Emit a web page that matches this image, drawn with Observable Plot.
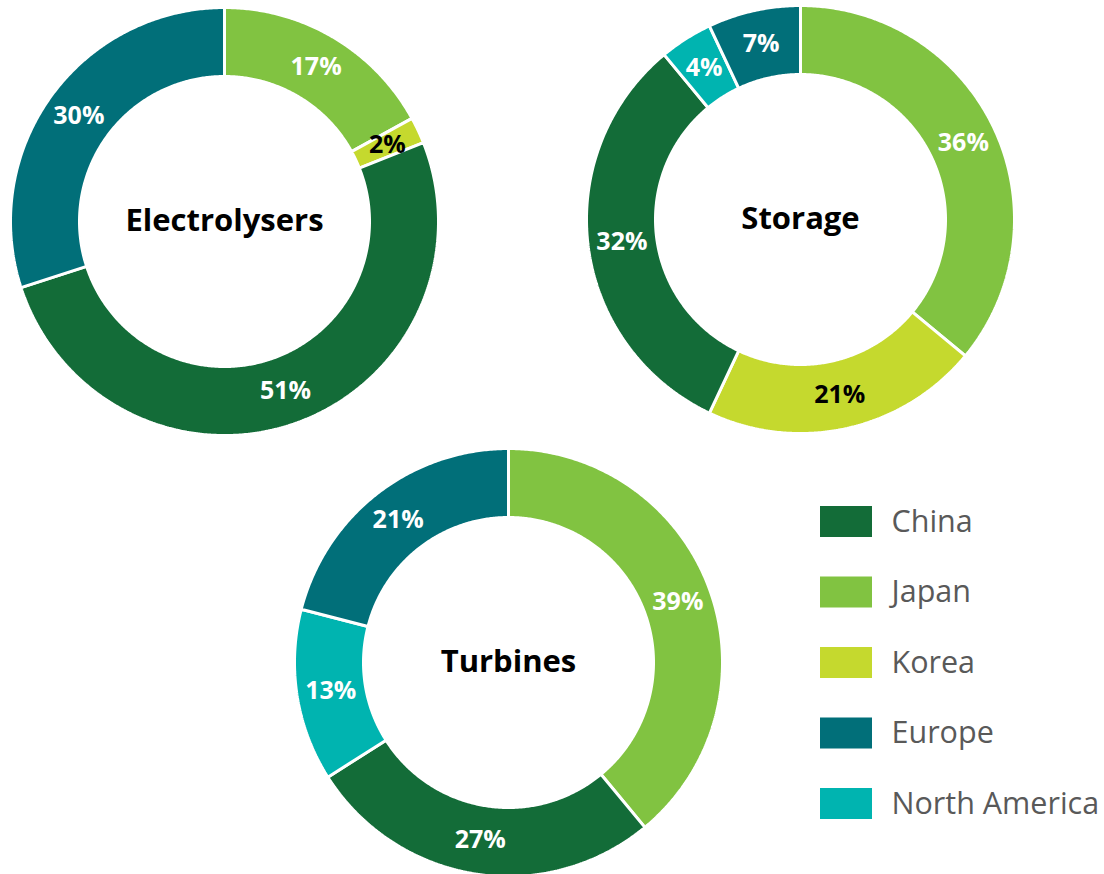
<!DOCTYPE html>
<html>
<head>
<meta charset="utf-8">
<script src="https://cdn.jsdelivr.net/npm/d3@7"></script>
<script src="https://cdn.jsdelivr.net/npm/@observablehq/plot@0.6"></script>
<style>
  html, body { margin: 0; padding: 0; background: #ffffff; }
  #chart { width: 1104px; height: 874px; }
</style>
</head>
<body>
<div id="chart"></div>
<script>
// ---- data ----
const regions = ["China", "Japan", "Korea", "Europe", "North America"];
const regionColors = ["#136c38", "#81c341", "#c5d92e", "#016f79", "#00b4b0"];
const charts = ["Electrolysers", "Storage", "Turbines"];
// slice order, clockwise from 12 o'clock
const sliceOrder = ["Japan", "Korea", "China", "North America", "Europe"];
const electrolysersShare = [17, 2, 51, 0, 30];
const storageShare = [36, 21, 32, 4, 7];
const turbinesShare = [39, 0, 27, 13, 21];

// ---- layout (pixels) ----
const W = 1104, H = 874;
const centers = [[224, 221], [800, 219], [508, 662]];
const R = 214, r0 = 145, rLabel = 180;
const legendX = 820, legendY0 = 506, legendStep = 70.5, swW = 52, swH = 31;

const shares = [electrolysersShare, storageShare, turbinesShare];

const ringPoints = [];
const labels = [];
const titles = [];
charts.forEach((name, ci) => {
  const [cx, cy] = centers[ci];
  titles.push({name, x: cx, y: cy});
  const vals = shares[ci];
  const total = d3.sum(vals);
  let acc = 0;
  vals.forEach((v, si) => {
    if (v <= 0) return;
    const a0 = acc / total * 2 * Math.PI;
    acc += v;
    const a1 = acc / total * 2 * Math.PI;
    const key = name + "|" + sliceOrder[si];
    const n = Math.max(4, Math.ceil((a1 - a0) / (Math.PI / 360)));
    for (let k = 0; k <= n; k++) {
      const a = a0 + (a1 - a0) * k / n;
      ringPoints.push({key, region: sliceOrder[si], x: cx + R * Math.sin(a), y: cy - R * Math.cos(a)});
    }
    for (let k = n; k >= 0; k--) {
      const a = a0 + (a1 - a0) * k / n;
      ringPoints.push({key, region: sliceOrder[si], x: cx + r0 * Math.sin(a), y: cy - r0 * Math.cos(a)});
    }
    const am = (a0 + a1) / 2;
    labels.push({region: sliceOrder[si], text: v + "%", x: cx + rLabel * Math.sin(am), y: cy - rLabel * Math.cos(am)});
  });
});

const legendItems = regions.map((region, i) => ({region, i}));

const plot = Plot.plot({
  width: W,
  height: H,
  margin: 0,
  x: {domain: [0, W], range: [0, W], axis: null},
  y: {domain: [0, H], range: [0, H], axis: null},
  color: {type: "ordinal", domain: regions, range: regionColors},
  style: {fontFamily: "'Open Sans', sans-serif", background: "#ffffff", overflow: "visible"},
  marks: [
    Plot.line(ringPoints, {
      x: "x", y: "y", z: "key", fill: "region",
      stroke: "white", strokeWidth: 3, strokeLinejoin: "miter",
      curve: "linear-closed"
    }),
    Plot.text(labels.filter(d => d.region !== "Korea"), {
      x: "x", y: "y", text: "text", fill: "white",
      fontSize: 25, fontWeight: "bold"
    }),
    Plot.text(labels.filter(d => d.region === "Korea"), {
      x: "x", y: "y", text: "text", fill: "black",
      fontSize: 25, fontWeight: "bold"
    }),
    Plot.text(titles, {
      x: "x", y: "y", text: "name", fill: "black",
      fontSize: 31, fontWeight: "bold"
    }),
    Plot.rect(legendItems, {
      x1: legendX, x2: legendX + swW,
      y1: d => legendY0 + d.i * legendStep,
      y2: d => legendY0 + d.i * legendStep + swH,
      fill: "region"
    }),
    Plot.text(legendItems, {
      x: legendX + swW + 19,
      y: d => legendY0 + d.i * legendStep + swH / 2,
      text: "region", textAnchor: "start",
      fill: "#595959", fontSize: 30.5
    })
  ]
});
document.getElementById("chart").appendChild(plot);
</script>
</body>
</html>
